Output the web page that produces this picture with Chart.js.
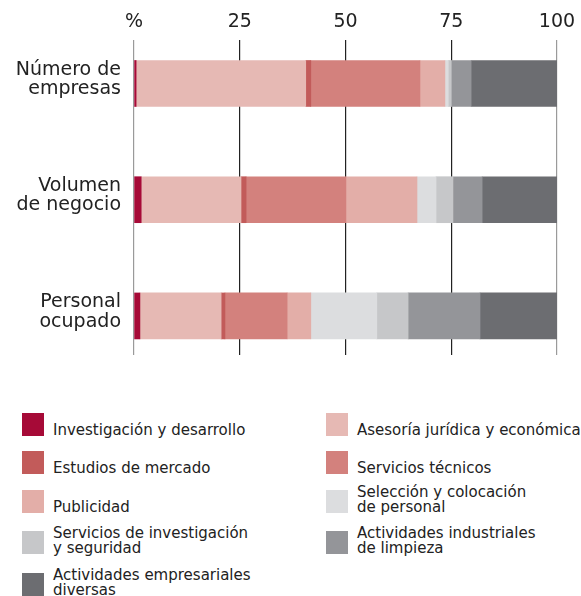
<!DOCTYPE html>
<html>
<head>
<meta charset="utf-8">
<script src="https://cdn.jsdelivr.net/npm/chart.js@4"></script>
<style>
  html, body { margin: 0; padding: 0; background: #fff; }
  #wrap { position: relative; width: 581px; height: 596px; overflow: hidden; font-family: "DejaVu Sans", sans-serif; color: #222; }
  #chartBox { position: absolute; left: 0; top: 0; width: 581px; height: 370px; }
  .sw { position: absolute; width: 22px; height: 23px; }
  .lt { position: absolute; font-size: 15px; line-height: 15px; white-space: pre-line; color: #222; }
</style>
</head>
<body>
<div id="wrap">
  <div id="chartBox"><canvas id="myChart"></canvas></div>
</div>
<script>
// categorias (eje vertical)
let categorias = [['Número de', 'empresas'], ['Volumen', 'de negocio'], ['Personal', 'ocupado']];
let ticksX = [0, 25, 50, 75, 100];

// series (% sobre el total de cada categoria)
let series = [
    'Investigación y desarrollo',
    'Asesoría jurídica y económica',
    'Estudios de mercado',
    'Servicios técnicos',
    'Publicidad',
    'Selección y colocación\nde personal',
    'Servicios de investigación\ny seguridad',
    'Actividades industriales\nde limpieza',
    'Actividades empresariales\ndiversas'
];
let colores = ['#a60a37', '#e6b9b4', '#c25b5a', '#d3817d', '#e3aea8', '#dcdddf', '#c6c7c9', '#949599', '#6c6d71'];

let investigacion = [0.5, 1.7, 1.4];
let asesoria = [40.1, 23.6, 19.2];
let estudios = [1.2, 1.2, 0.9];
let tecnicos = [25.8, 23.6, 14.7];
let publicidad = [5.9, 16.8, 5.6];
let seleccion = [0.8, 4.5, 15.6];
let seguridad = [0.7, 4.0, 7.4];
let limpieza = [4.7, 6.9, 17.0];
let diversas = [20.3, 17.7, 18.2];

let valores = [investigacion, asesoria, estudios, tecnicos, publicidad, seleccion, seguridad, limpieza, diversas];

let datasets = valores.map(function(v, i) {
    return {
        label: series[i],
        data: v.map(function(x, j) { return { x: x, y: j }; }),
        backgroundColor: colores[i],
        borderWidth: 0,
        barThickness: 46
    };
});

let yMin = -0.374;
let yMax = 2.336;

let ctx = document.getElementById('myChart').getContext('2d');
let chart = new Chart(ctx, {
    type: 'bar',
    data: { datasets: datasets },
    options: {
        indexAxis: 'y',
        responsive: true,
        maintainAspectRatio: false,
        animation: false,
        layout: { padding: { left: 0, right: 24, top: 0, bottom: 15 } },
        plugins: { legend: { display: false }, tooltip: { enabled: false } },
        scales: {
            x: {
                type: 'linear',
                position: 'top',
                stacked: true,
                min: 0,
                max: 100,
                afterBuildTicks: function(scale) {
                    scale.ticks = ticksX.map(function(v) { return { value: v }; });
                },
                afterFit: function(scale) {
                    scale.height = 40;
                    scale.paddingLeft = 0;
                    scale.paddingRight = 0;
                },
                border: { display: false },
                grid: {
                    drawTicks: false,
                    lineWidth: 1.2,
                    color: function(c) {
                        let v = c.tick ? c.tick.value : 0;
                        return (v === 0 || v === 100) ? '#9a9a9a' : '#222';
                    }
                },
                ticks: {
                    padding: 7,
                    color: '#222',
                    font: { family: 'DejaVu Sans', size: 19 },
                    callback: function(v) { return v === 0 ? '%' : v; }
                }
            },
            y: {
                type: 'linear',
                stacked: true,
                reverse: true,
                offset: false,
                bounds: 'data',
                min: yMin,
                max: yMax,
                afterBuildTicks: function(scale) {
                    scale.ticks = categorias.map(function(c, i) { return { value: i }; });
                    scale.min = yMin;
                    scale.max = yMax;
                },
                afterFit: function(scale) {
                    scale.width = 134;
                    scale.paddingTop = 0;
                    scale.paddingBottom = 0;
                },
                border: { display: false },
                grid: { display: false, drawTicks: false, offset: false },
                ticks: {
                    padding: 13,
                    labelOffset: -4,
                    color: '#222',
                    font: { family: 'DejaVu Sans', size: 19, lineHeight: 1.02 },
                    callback: function(v) { return categorias[v] || ''; }
                }
            }
        }
    }
});

// leyenda en dos columnas
let wrap = document.getElementById('wrap');
let colX = [22, 326];
let filaY = [413, 451, 490, 531, 573];
series.forEach(function(nombre, i) {
    let col = i % 2;
    let fila = Math.floor(i / 2);
    let top = filaY[fila];
    let sw = document.createElement('div');
    sw.className = 'sw';
    sw.style.left = colX[col] + 'px';
    sw.style.top = top + 'px';
    sw.style.background = colores[i];
    wrap.appendChild(sw);

    let t = document.createElement('div');
    t.className = 'lt';
    t.style.left = (colX[col] + 31) + 'px';
    t.style.bottom = (596 - (top + 23 + 2)) + 'px';
    t.textContent = nombre;
    wrap.appendChild(t);
});
</script>
</body>
</html>
